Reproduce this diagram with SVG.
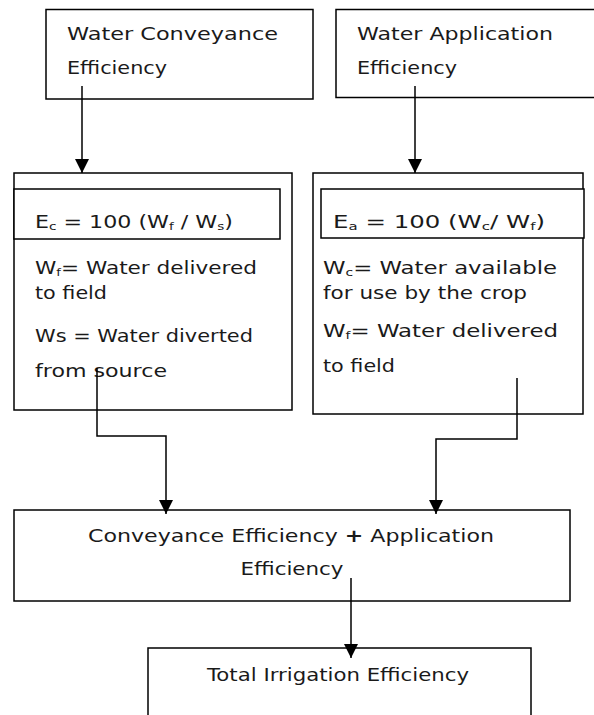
<svg xmlns="http://www.w3.org/2000/svg" width="594" height="715" viewBox="0 0 594 715">
<style>
.box{fill:#fff;stroke:#000;stroke-width:1.5}
.t{font-family:"DejaVu Sans","Liberation Sans",sans-serif;font-size:18px;fill:#1a1a1a}
.s{font-size:11px}
.c{fill:none;stroke:#000;stroke-width:1.5}
</style>
<defs>
<marker id="ah" markerUnits="userSpaceOnUse" markerWidth="14" markerHeight="14" viewBox="0 0 14 14" refX="14" refY="7" orient="auto">
<path d="M0,0 L14,7 L0,14 Z" fill="#000"/>
</marker>
</defs>
<rect width="594" height="715" fill="#fff"/>
<g id="n1">
<rect class="box" x="46" y="9.5" width="267" height="89.5"/>
<text class="t" x="67" y="39.5" textLength="211" lengthAdjust="spacingAndGlyphs">Water Conveyance</text>
<text class="t" x="67" y="74" textLength="100" lengthAdjust="spacingAndGlyphs">Efficiency</text>
</g>
<g id="n2">
<rect class="box" x="336" y="9.5" width="270" height="88"/>
<text class="t" x="357" y="39.5" textLength="196" lengthAdjust="spacingAndGlyphs">Water Application</text>
<text class="t" x="357" y="74" textLength="100" lengthAdjust="spacingAndGlyphs">Efficiency</text>
</g>
<g id="n3">
<rect class="box" x="14" y="173" width="278" height="237"/>
<rect class="box" x="14" y="189" width="266" height="50"/>
<text class="t" x="35" y="228" textLength="198" lengthAdjust="spacingAndGlyphs">E<tspan class="s" dy="2">c</tspan><tspan dy="-2"> = 100 (W</tspan><tspan class="s" dy="2">f</tspan><tspan dy="-2"> / W</tspan><tspan class="s" dy="2">s</tspan><tspan dy="-2">)</tspan></text>
<text class="t" x="35" y="274" textLength="222" lengthAdjust="spacingAndGlyphs">W<tspan class="s" dy="2">f</tspan><tspan dy="-2">= Water delivered</tspan></text>
<text class="t" x="35" y="299" textLength="72" lengthAdjust="spacingAndGlyphs">to field</text>
<text class="t" x="35" y="342" textLength="218" lengthAdjust="spacingAndGlyphs">Ws = Water diverted</text>
<text class="t" x="35" y="377" textLength="132" lengthAdjust="spacingAndGlyphs">from source</text>
</g>
<g id="n4">
<rect class="box" x="313" y="173" width="270" height="241"/>
<rect class="box" x="321" y="189" width="263" height="49"/>
<text class="t" x="333" y="228" textLength="212" lengthAdjust="spacingAndGlyphs">E<tspan class="s" dy="2">a</tspan><tspan dy="-2"> = 100 (W</tspan><tspan class="s" dy="2">c</tspan><tspan dy="-2">/ W</tspan><tspan class="s" dy="2">f</tspan><tspan dy="-2">)</tspan></text>
<text class="t" x="323" y="274" textLength="234" lengthAdjust="spacingAndGlyphs">W<tspan class="s" dy="2">c</tspan><tspan dy="-2">= Water available</tspan></text>
<text class="t" x="323" y="299" textLength="204" lengthAdjust="spacingAndGlyphs">for use by the crop</text>
<text class="t" x="323" y="337" textLength="235" lengthAdjust="spacingAndGlyphs">W<tspan class="s" dy="2">f</tspan><tspan dy="-2">= Water delivered</tspan></text>
<text class="t" x="323" y="372" textLength="72" lengthAdjust="spacingAndGlyphs">to field</text>
</g>
<g id="n5">
<rect class="box" x="14" y="510" width="556" height="91"/>
<text class="t" x="291" y="542" text-anchor="middle" textLength="406" lengthAdjust="spacingAndGlyphs">Conveyance Efficiency <tspan font-weight="bold">+</tspan> Application</text>
<text class="t" x="292" y="575" text-anchor="middle" textLength="103" lengthAdjust="spacingAndGlyphs">Efficiency</text>
</g>
<g id="n6">
<rect class="box" x="148" y="648" width="383" height="80"/>
<text class="t" x="338" y="681" text-anchor="middle" textLength="262" lengthAdjust="spacingAndGlyphs">Total Irrigation Efficiency</text>
</g>
<g id="connectors">
<path class="c" d="M82,86 V173" marker-end="url(#ah)"/>
<path class="c" d="M415,86 V173" marker-end="url(#ah)"/>
<path class="c" d="M97,368 V436 H166 V514" marker-end="url(#ah)"/>
<path class="c" d="M517,378 V439 H436 V514" marker-end="url(#ah)"/>
<path class="c" d="M351,578 V658" marker-end="url(#ah)"/>
</g>
</svg>
